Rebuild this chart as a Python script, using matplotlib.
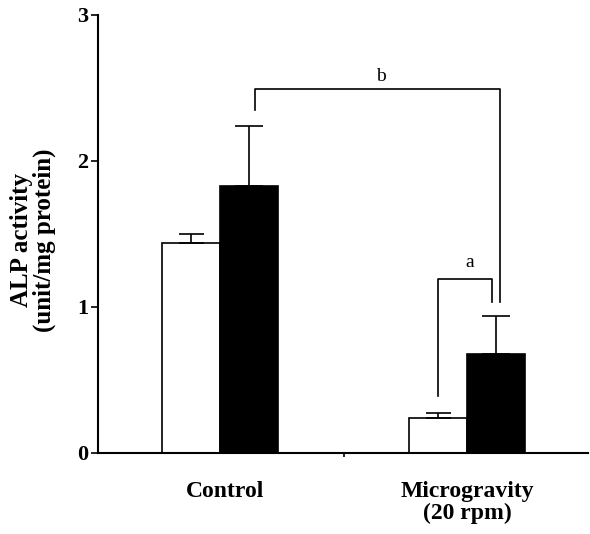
import matplotlib
matplotlib.use("Agg")
import matplotlib.pyplot as plt
import numpy as np

# data
categories = ["Control", "Microgravity\n(20 rpm)"]
white_vals = [1.44, 0.24]
white_err = [0.06, 0.03]
black_vals = [1.83, 0.68]
black_err = [0.41, 0.26]

plt.rcParams['font.family'] = ['Liberation Serif', 'DejaVu Serif']

fig = plt.figure(figsize=(5.9, 5.34), dpi=100)
ax = fig.add_axes([0.166, 0.152, 0.831, 0.82])

x = np.array([1.0, 2.0])
w = 0.235
ax.bar(x - w / 2, white_vals, w, color='white', edgecolor='black', linewidth=1.2)
ax.bar(x + w / 2, black_vals, w, color='black', edgecolor='black', linewidth=1.2)
ax.errorbar(x - w / 2, white_vals, yerr=[np.zeros(2), white_err], fmt='none',
            ecolor='black', elinewidth=1.2, capsize=9, capthick=1.2)
ax.errorbar(x + w / 2, black_vals, yerr=[np.zeros(2), black_err], fmt='none',
            ecolor='black', elinewidth=1.2, capsize=10, capthick=1.2)

# significance brackets
ax.plot([1.883, 1.883, 2.10, 2.10], [0.39, 1.19, 1.19, 1.03], color='black', lw=1.2)
ax.text(2.012, 1.27, "a", ha='center', va='baseline', fontsize=14)
ax.plot([1.142, 1.142, 2.134, 2.134], [2.35, 2.49, 2.49, 1.03], color='black', lw=1.2)
ax.text(1.652, 2.55, "b", ha='center', va='baseline', fontsize=14)

ax.set_xlim(0.506, 2.49)
ax.set_ylim(0, 3)
ax.set_yticks([0, 1, 2, 3])
ax.set_yticklabels(["0", "1", "2", "3"], fontsize=16, fontweight='bold')
ax.set_xticks([1.02, 2.0])
ax.set_xticklabels(categories, fontsize=17, fontweight='bold', linespacing=1.1)
ax.set_xticks([1.5], minor=True)
ax.tick_params(axis='x', which='major', length=0, pad=20)
ax.tick_params(axis='x', which='minor', direction='out', length=3, width=1.2)
ax.tick_params(axis='y', direction='out', length=5, width=1.2, pad=2)

for s in ['top', 'right']:
    ax.spines[s].set_visible(False)
for s in ['left', 'bottom']:
    ax.spines[s].set_linewidth(1.5)

ax.set_ylabel("ALP activity\n(unit/mg protein)", fontsize=18, fontweight='bold',
              linespacing=0.95)
ax.yaxis.set_label_coords(-0.086, 0.485)

fig.savefig("out.png", dpi=100)
